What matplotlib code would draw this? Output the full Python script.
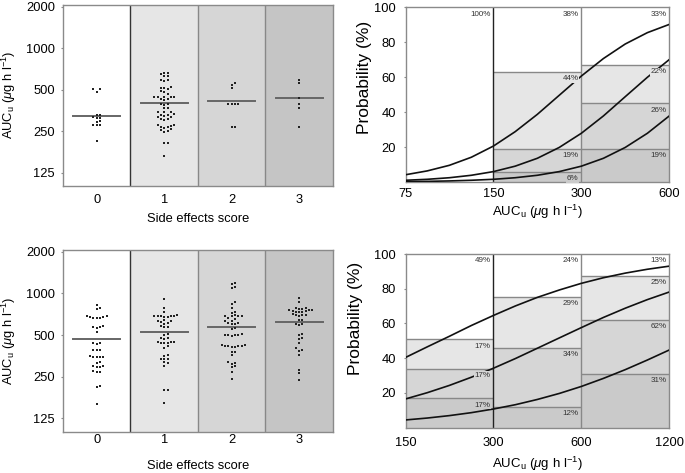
import numpy as np
import matplotlib
matplotlib.use("Agg")
import matplotlib.pyplot as plt

plt.rcParams['font.family'] = 'Liberation Sans'
plt.rcParams['mathtext.fontset'] = 'custom'
plt.rcParams['mathtext.rm'] = 'Liberation Sans'
plt.rcParams['mathtext.it'] = 'Liberation Sans:italic'
plt.rcParams['font.size'] = 9.3

# ---- left panels: AUCu per side effects score ----
scores = [0, 1, 2, 3]
auc_ticks = [125, 250, 500, 1000, 2000]

top_auc_0 = [505, 505, 480, 330, 330, 315, 312, 310, 295, 290, 275, 275, 275, 213]
top_auc_1 = [665, 660, 650, 630, 625, 590, 585, 580, 520, 515, 510, 505, 485, 480, 465,
             445, 445, 440, 440, 440, 425, 425, 420, 395, 392, 390, 368, 365, 345, 345,
             342, 332, 330, 330, 320, 318, 318, 306, 305, 303, 278, 275, 272, 270, 268,
             265, 258, 255, 250, 248, 205, 204, 164]
top_auc_2 = [560, 540, 512, 392, 392, 392, 392, 266, 266]
top_auc_3 = [590, 555, 438, 392, 368, 266]
top_centre = [320, 401, 412, 434]

bot_auc_0 = [825, 790, 775, 690, 685, 680, 675, 670, 668, 665, 580, 575, 570, 565, 530,
             440, 435, 430, 392, 390, 388, 352, 350, 348, 346, 345, 320, 316, 300, 298,
             295, 292, 274, 272, 270, 214, 210, 160]
bot_auc_1 = [910, 780, 740, 695, 692, 690, 688, 685, 682, 680, 675, 640, 635, 630, 625,
             610, 605, 580, 575, 570, 508, 505, 478, 474, 470, 448, 445, 443, 440, 438,
             436, 417, 401, 358, 354, 338, 336, 334, 318, 314, 299, 202, 200, 161]
bot_auc_2 = [1200, 1170, 1110, 1090, 870, 835, 780, 735, 728, 695, 692, 690, 688, 685,
             662, 658, 635, 630, 612, 608, 605, 600, 562, 558, 510, 505, 502, 500, 498,
             495, 425, 422, 420, 418, 416, 414, 412, 410, 380, 376, 360, 318, 314, 310,
             297, 293, 272, 241]
bot_auc_3 = [930, 870, 790, 780, 775, 770, 765, 760, 755, 750, 745, 740, 735, 730, 705,
             700, 698, 695, 690, 645, 640, 600, 598, 595, 510, 505, 475, 470, 436, 402,
             388, 385, 360, 280, 265, 237]
bot_centre = [466, 524, 575, 619]

band_colors = ['#ffffff', '#e6e6e6', '#d6d6d6', '#c5c5c5']

# ---- right panels: probability of side effects score by AUCu ----
tr_edges = [75, 150, 300, 600]
tr_levels = [[], [63, 19, 6], [67, 45, 19]]
tr_labels = [['100%'], ['38%', '44%', '19%', '6%'], ['33%', '22%', '26%', '19%']]
tr_x = [75, 89, 106, 126, 150, 178, 212, 252, 300, 357, 424, 505, 600]
tr_curve1 = [4.2, 6.4, 9.6, 14.2, 20.6, 28.8, 38.7, 49.6, 60.6, 70.6, 78.9, 85.4, 90.1]
tr_curve2 = [1.05, 1.6, 2.5, 3.9, 6.0, 9.1, 13.6, 19.8, 27.9, 37.8, 48.8, 59.9, 70.0]
tr_curve3 = [0.27, 0.43, 0.67, 1.05, 1.6, 2.5, 3.9, 6.0, 9.1, 13.6, 19.8, 27.9, 37.8]

br_edges = [150, 300, 600, 1200]
br_levels = [[51, 34, 17], [75.5, 46, 12], [87.5, 62, 31]]
br_labels = [['49%', '17%', '17%', '17%'], ['24%', '29%', '34%', '12%'],
             ['13%', '25%', '62%', '31%']]
br_x = [150, 178, 212, 252, 300, 357, 424, 505, 600, 713, 849, 1009, 1200]
br_curve1 = [40.4, 46.5, 52.6, 58.8, 64.6, 70.1, 75.0, 79.3, 83.1, 86.3, 89.0, 91.2, 93.0]
br_curve2 = [16.5, 20.1, 24.3, 29.0, 34.2, 39.8, 45.7, 51.7, 57.6, 63.4, 68.8, 73.7, 78.1]
br_curve3 = [4.4, 5.5, 6.9, 8.6, 10.7, 13.2, 16.2, 19.7, 23.7, 28.3, 33.4, 38.9, 44.7]

region_colors = ['#ffffff', '#e6e6e6', '#d6d6d6', '#cacaca']
auc_label = r'AUC$_\mathrm{u}$ ($\mu$g h l$^{-1}$)'
spine_col = '#8a8a8a'


def swarm(values, d=3.3, px_oct=41.7, px_cat=67.5):
    # simple deterministic beeswarm: place each dot at the nearest free x slot
    ys = np.log2(values) * px_oct
    order = np.argsort(ys)
    placed = []
    offs = np.zeros(len(values))
    for i in order:
        k = 0
        while True:
            for s in ([0] if k == 0 else [k, -k]):
                x = s * d
                if all((x - px) ** 2 + (ys[i] - py) ** 2 >= (0.95 * d) ** 2 for px, py in placed):
                    placed.append((x, ys[i]))
                    offs[i] = x / px_cat
                    break
            else:
                k += 1
                continue
            break
    return offs


def style(ax, xpad, ypad):
    for s in ax.spines.values():
        s.set_color(spine_col)
        s.set_linewidth(1.0)
    ax.tick_params(axis='y', length=1.5, width=0.8, color=spine_col, pad=ypad)
    ax.tick_params(axis='x', length=0, pad=xpad)


def left_panel(ax, groups, centres, xpad, xlab_y):
    for i in scores:
        ax.axvspan(i - 0.5, i + 0.5, color=band_colors[i], lw=0, zorder=0)
    ax.axvline(0.5, color='#333333', lw=1.0, zorder=1)
    ax.axvline(1.5, color='#888888', lw=1.0, zorder=1)
    ax.axvline(2.5, color='#888888', lw=1.0, zorder=1)
    for i, vals in enumerate(groups):
        offs = swarm(vals)
        ax.scatter(i + offs, vals, s=2.2, marker='s', color='#222222', lw=0, zorder=3)
        ax.plot([i - 0.35, i + 0.35], [centres[i], centres[i]], color='#666666', lw=1.4, zorder=2)
    ax.set_yscale('log', base=2)
    ax.set_ylim(100, 2070)
    ax.set_xlim(-0.5, 3.5)
    ax.set_yticks(auc_ticks)
    ax.set_yticklabels([str(t) for t in auc_ticks])
    ax.minorticks_off()
    ax.set_xticks(scores)
    ax.set_xticklabels([str(s) for s in scores])
    ax.set_xlabel('Side effects score')
    ax.set_ylabel(auc_label, fontsize=9.3)
    ax.xaxis.set_label_coords(0.5, xlab_y)
    ax.yaxis.set_label_coords(-0.168, 0.5)
    style(ax, xpad, 4.3)


def right_panel(ax, edges, levels, labels, cx, c1, c2, c3, xpad, xlab_y, ylab_x, ylab_y):
    for b in range(3):
        l, r = edges[b], edges[b + 1]
        tops = [100] + levels[b]
        bots = levels[b] + [0]
        for j in range(len(tops)):
            ax.fill_between([l, r], bots[j], tops[j], color=region_colors[j], lw=0, zorder=0)
            ax.annotate(labels[b][j], xy=(r, tops[j]), xytext=(-2, -2.5),
                        textcoords='offset points', ha='right', va='top', fontsize=5.8,
                        color='#333333', zorder=5,
                        bbox=dict(fc=region_colors[j], ec='none', pad=0.6))
        ax.hlines(levels[b], l, r, color='#888888', lw=1.0, zorder=1)
    ax.axvline(edges[1], color='#222222', lw=1.0, zorder=2)
    ax.axvline(edges[2], color='#888888', lw=1.0, zorder=2)
    for c in (c1, c2, c3):
        ax.plot(cx, c, color='#111111', lw=1.2, zorder=3)
    ax.set_xscale('log')
    ax.set_xlim(edges[0], edges[-1])
    ax.set_ylim(0, 100)
    ax.set_xticks(edges)
    ax.set_xticklabels([str(e) for e in edges])
    ax.minorticks_off()
    ax.set_yticks([20, 40, 60, 80, 100])
    ax.set_xlabel(auc_label, fontsize=9.5)
    ax.set_ylabel('Probability (%)', fontsize=12.5)
    ax.xaxis.set_label_coords(0.5, xlab_y)
    ax.yaxis.set_label_coords(ylab_x, ylab_y)
    style(ax, xpad, 5.5)


fig = plt.figure(figsize=(6.85, 4.73), dpi=100)
ax1 = fig.add_axes([0.092, 0.607, 0.394, 0.383])
ax2 = fig.add_axes([0.592, 0.615, 0.385, 0.370])
ax3 = fig.add_axes([0.092, 0.087, 0.394, 0.385])
ax4 = fig.add_axes([0.592, 0.096, 0.385, 0.367])

left_panel(ax1, [top_auc_0, top_auc_1, top_auc_2, top_auc_3], top_centre, 5.5, -0.152)
left_panel(ax3, [bot_auc_0, bot_auc_1, bot_auc_2, bot_auc_3], bot_centre, 1.5, -0.152)
right_panel(ax2, tr_edges, tr_levels, tr_labels, tr_x, tr_curve1, tr_curve2, tr_curve3,
            4.0, -0.12, -0.128, 0.6)
right_panel(ax4, br_edges, br_levels, br_labels, br_x, br_curve1, br_curve2, br_curve3,
            6.5, -0.155, -0.162, 0.63)

fig.savefig('out.png', dpi=100)
